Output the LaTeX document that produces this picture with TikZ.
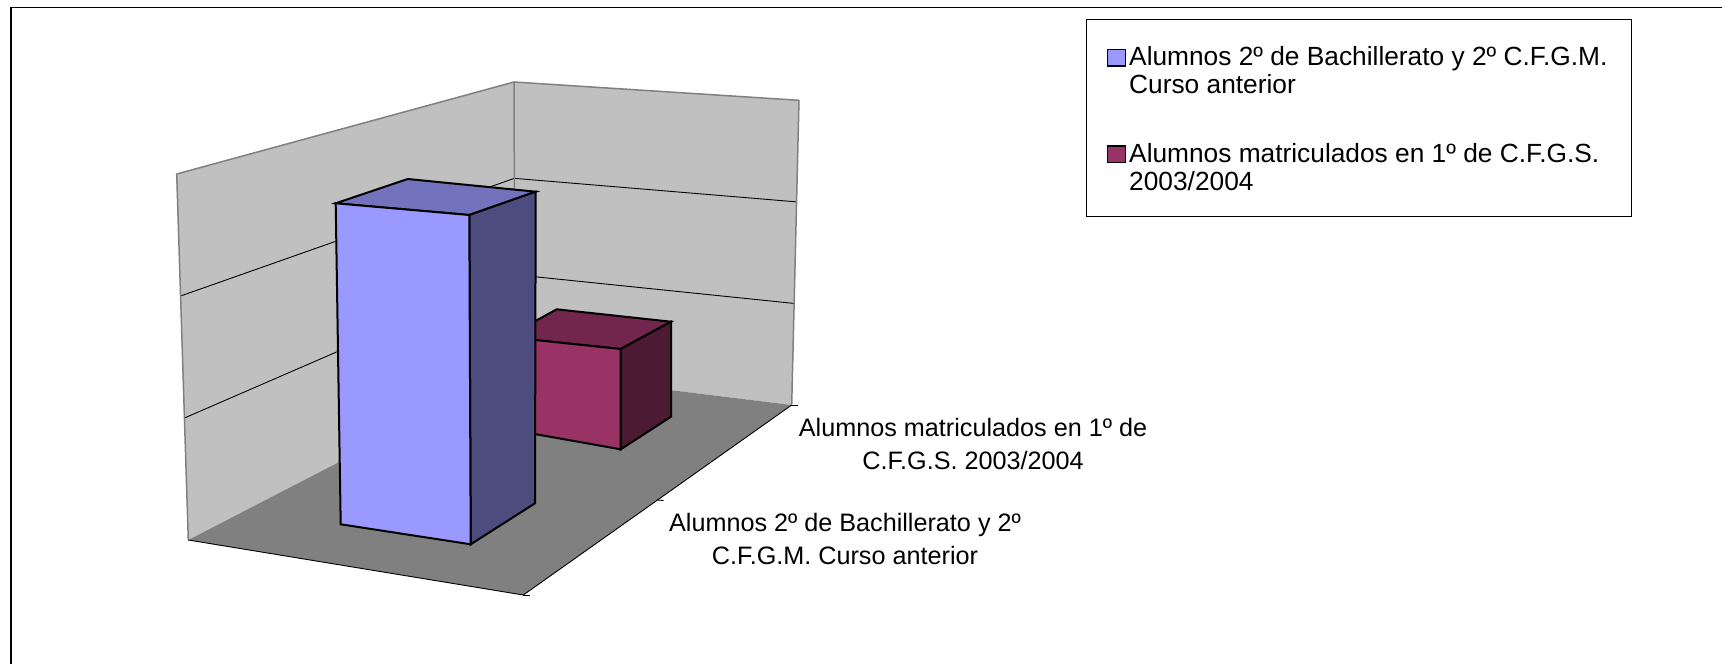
\documentclass[tikz,border=0pt]{standalone}
\usepackage{fontspec}
\setmainfont{Liberation Sans}
\usetikzlibrary{calc}
\definecolor{wallc}{HTML}{C0C0C0}
\definecolor{wallb}{HTML}{808080}
\definecolor{floorc}{HTML}{808080}
\definecolor{bfront}{HTML}{9999FF}
\definecolor{btop}{HTML}{7373BD}
\definecolor{bside}{HTML}{4C4C7F}
\definecolor{rfront}{HTML}{993366}
\definecolor{rtop}{HTML}{73264D}
\definecolor{rside}{HTML}{4D1A33}
\tikzset{
  wallfill/.style={fill=wallc},
  wallline/.style={draw=wallb, line width=1.5pt, line cap=round, line join=round},
  gridline/.style={draw=black, line width=0.9pt},
  flooredge/.style={draw=black, line width=0.9pt},
  barface/.style={draw=black, line width=2pt, line join=miter},
  catlab/.style={font=\fontsize{25.2}{33}\selectfont, align=center, inner sep=0pt},
  leglab/.style={font=\fontsize{26.3}{28.5}\selectfont, align=left, inner sep=0pt, anchor=north west},
  legkey/.style={draw=black, line width=1.6pt, inner sep=0pt, anchor=north west, minimum width=18pt, minimum height=16.5pt},
  framel/.style={draw=black, line width=1.2pt}
}
\begin{document}
\begin{tikzpicture}[x=1pt,y=-1pt]
\useasboundingbox (0,0) rectangle (1722,664);
\fill[white] (0,0) rectangle (1722,664);
% outer frame (top and left visible)
\coordinate (F1) at (1722,7.5);
\coordinate (F0) at (11,7.5);
\coordinate (F2) at (11,664);
\draw[framel] (F1) -- (F0) -- (F2);
% wall / floor geometry
\coordinate (LT) at (176.7,174);
\coordinate (LB) at (188.3,540);
\coordinate (BT) at (514,82);
\coordinate (BB) at (515,371);
\coordinate (RT) at (799,100.3);
\coordinate (RB) at (791.7,405);
\coordinate (FF) at (523.3,595);
% walls
\fill[wallfill] (LT) -- (BT) -- (BB) -- (LB) -- cycle;
\fill[wallfill] (BT) -- (RT) -- (RB) -- (BB) -- cycle;
% gridlines
\draw[gridline] ($(LT)!1/3!(LB)$) -- ($(BT)!1/3!(BB)$) -- ($(RT)!1/3!(RB)$);
\draw[gridline] ($(LT)!2/3!(LB)$) -- ($(BT)!2/3!(BB)$) -- ($(RT)!2/3!(RB)$);
% wall borders
\draw[wallline] (LB) -- (LT) -- (BT) -- (RT) -- (RB);
\draw[wallline] (BT) -- (BB);
% floor
\fill[floorc] (BB) -- (RB) -- (FF) -- (LB) -- cycle;
\draw[flooredge] (LB) -- (FF) -- (RB);
% ticks
\coordinate (TM) at ($(RB)!0.5!(FF)$);
\draw[flooredge] (RB) -- ++(6,0);
\draw[flooredge] (TM) -- ++(6,0.5);
\draw[flooredge] (FF) -- ++(7,0);
% red bar (back series)
\coordinate (r1) at (506.4,337);
\coordinate (r2) at (620.7,349);
\coordinate (r3) at (671,321.7);
\coordinate (r4) at (556.7,309.3);
\coordinate (r5) at (620.7,449.3);
\coordinate (r6) at (671,416.7);
\coordinate (r7) at (506.4,429);
\filldraw[barface, fill=rtop] (r1) -- (r4) -- (r3) -- (r2) -- cycle;
\filldraw[barface, fill=rside] (r2) -- (r3) -- (r6) -- (r5) -- cycle;
\filldraw[barface, fill=rfront] (r1) -- (r2) -- (r5) -- (r7) -- cycle;
% blue bar (front series)
\coordinate (b1) at (335.7,203.3);
\coordinate (b2) at (469.3,215);
\coordinate (b3) at (535.7,191.7);
\coordinate (b4) at (407.7,179);
\coordinate (b5) at (470.7,544.3);
\coordinate (b6) at (535,503.3);
\coordinate (b7) at (340.7,524.3);
\filldraw[barface, fill=btop] (b1) -- (b4) -- (b3) -- (b2) -- cycle;
\filldraw[barface, fill=bside] (b2) -- (b3) -- (b6) -- (b5) -- cycle;
\filldraw[barface, fill=bfront] (b1) -- (b2) -- (b5) -- (b7) -- cycle;
% category labels
\node[catlab] (cat2) at (973,443.5) {Alumnos matriculados en 1º de\\C.F.G.S. 2003/2004};
\node[catlab] (cat1) at (845,539.3) {Alumnos 2º de Bachillerato y 2º\\C.F.G.M. Curso anterior};
% legend
\node[draw=black, line width=1pt, fill=white, minimum width=545pt, minimum height=197.5pt, anchor=north west, inner sep=0pt] (leg) at (1085.5,18.5) {};
\node[legkey, fill=bfront] (k1) at (1106.5,48.5) {};
\node[legkey, fill=rfront] (k2) at (1106.5,145.2) {};
\node[leglab] (t1) at (1129,46.2) {Alumnos 2º de Bachillerato y 2º C.F.G.M.\\Curso anterior};
\node[leglab] (t2) at (1129,142.9) {Alumnos matriculados en 1º de C.F.G.S.\\2003/2004};
\end{tikzpicture}
\end{document}
